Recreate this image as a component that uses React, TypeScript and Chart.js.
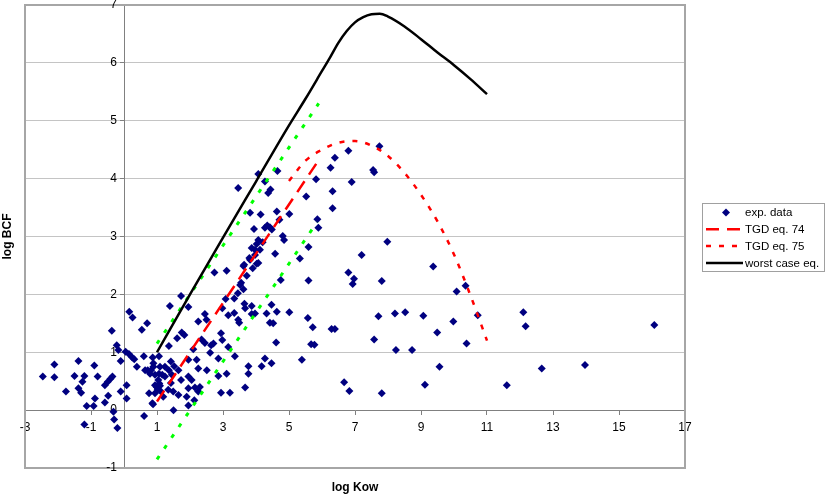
import React, { useEffect, useRef } from "react";
import { Chart, registerables } from "chart.js";

Chart.register(...registerables);

// ---- data ----
const expX = [
  -2.46, -2.11, -2.11, -1.76, -1.38, -1.5, -1.2, -1.38, -1.26, -1.3, -1.13, -1.2, -0.9, -0.8, -0.88, -0.92,
  -0.58, -0.48, -0.58, -0.49, -0.41, -0.35, -0.37, -0.32, -0.3, -0.2, -0.22, -0.17, -0.1, -0.1, 0.08, 0.08,
  0.16, 0.26, 0.05, 0.15, 0.25, 0.31, 0.39, 0.54, 0.7, 0.6, 0.61, 0.72, 0.82, 0.76, 0.88, 0.87, 0.89, 0.64, 0.79,
  1.06, 0.89, 1.09, 1.06, 1.04, 0.94, 1.09, 1.02, 1.12, 0.94, 0.86, 0.94, 1.16, 1.19, 1.34, 0.99, 1.07,
  1.24, 1.24, 1.36, 1.42, 1.45, 1.42, 1.49, 1.65, 1.5, 1.9, 1.52, 1.65, 1.73, 1.95, 1.95, 2.05, 2.15, 2.3,
  2.25, 2.13, 1.95, 1.95, 2.2, 2.25, 2.51, 2.1, 2.61, 2.86, 2.35, 2.45, 2.64, 2.71, 2.94, 2.98, 3.16, 1.36,
  1.61, 1.75, 1.83, 1.39, 1.73, 1.95, 2.25, 2.45, 2.5,
  2.74, 3.11, 3.64, 3.82, 4.02, 3.52, 3.62, 3.45, 3.34, 3.08, 3.65, 3.87, 3.67, 2.98, 3.34, 3.16, 3.46, 3.49,
  3.87, 3.97, 4.32, 4.47, 4.52, 4.42, 4.63, 5.01, 4.61, 3.36, 2.86, 3.11, 2.94, 3.21, 3.67, 3.77, 3.77, 4.17,
  4.27, 4.47,
  3.46, 4.07, 4.27, 4.65, 4.37, 4.44, 3.82, 4.14, 4.63, 5.01, 4.71, 3.94, 4.27, 4.34, 4.42, 4.48, 4.81, 4.85,
  4.07, 4.02, 3.87, 3.97, 4.12, 3.8, 3.97, 4.58, 4.07, 3.62, 4.75, 3.72, 3.55, 3.9, 4.2,
  5.82, 5.52, 6.26, 6.39, 6.32, 6.32, 5.86, 5.89, 5.59, 7.74, 6.8, 6.9, 7.55, 7.58, 7.98, 5.33, 7.2, 6.8, 6.97,
  6.93, 7.81, 5.59, 9.37, 10.35, 10.08, 5.57, 5.72, 5.67, 5.77, 6.29, 6.39, 5.39, 6.67, 6.83, 7.81, 7.71,
  7.58, 8.21, 8.52, 9.07, 8.24, 8.73, 9.49, 9.98, 10.72, 10.38, 9.56, 9.12, 11.6, 12.1, 12.17, 12.66, 13.97,
  16.07,
];
const expY = [
  0.58, 0.79, 0.57, 0.32, 0.85, 0.59, 0.59, 0.38, 0.49, 0.3, 0.07, -0.25, 0.77, 0.58, 0.2, 0.07,
  0.13, 0.25, 0.43, 0.49, 0.54, 0.58, 1.37, -0.03, -0.16, -0.31, 1.12, 1.04, 0.85, 0.32, 0.43, 0.2,
  1.7, 1.6, 1.01, 0.97, 0.91, 0.88, 0.75, 1.39, 1.5, 0.93, -0.1, 0.69, 0.69, 0.29, 0.1, 0.91, 0.81, 0.69, 0.63,
  0.93, 0.75, 0.75, 0.63, 0.52, 0.43, 0.42, 0.36, 0.32, 0.29, 0.12, 0.61, 0.61, 0.23, 0.35, 0.4, 0.46,
  0.58, 0.75, 0.69, 0.84, 0.61, 0.47, 0.32, 0.26, 0.0, 0.23, 0.76, 0.69, 0.52, 0.38, 0.58, 0.52, 0.39, 0.4,
  0.32, 0.17, 0.08, 0.87, 0.87, 0.72, 0.69, 1.05, 0.99, 0.89, 1.22, 1.16, 1.12, 1.15, 1.33, 1.21, 1.09, 1.11,
  1.24, 1.34, 1.3, 1.8, 1.97, 1.78, 1.53, 1.66, 1.56,
  2.38, 2.41, 2.51, 2.6, 2.53, 2.16, 2.09, 2.02, 1.93, 1.92, 1.84, 1.8, 1.76, 1.76, 1.68, 1.64, 1.56, 1.51,
  1.66, 1.67, 1.67, 1.82, 1.5, 1.51, 1.7, 1.69, 1.17, 0.93, 0.59, 0.63, 0.3, 0.3, 0.39, 0.76, 0.63, 0.76,
  0.89, 0.81,
  3.84, 4.08, 3.95, 4.13, 3.75, 3.81, 3.41, 3.38, 3.43, 3.39, 3.29, 3.13, 3.15, 3.19, 3.16, 3.12, 3.01, 2.94,
  2.94, 2.87, 2.8, 2.77, 2.77, 2.63, 2.68, 2.7, 2.54, 2.49, 2.25, 2.32, 2.2, 2.45, 2.9,
  3.99, 3.69, 4.19, 4.36, 3.78, 3.49, 3.3, 3.15, 2.82, 4.56, 4.48, 3.94, 4.15, 4.11, 2.91, 2.62, 2.68, 2.38, 2.27,
  2.18, 2.23, 2.24, 2.48, 2.15, 2.05, 1.59, 1.43, 1.14, 1.13, 1.4, 1.4, 0.87, 0.48, 0.33, 0.29, 1.62,
  1.22, 1.67, 1.69, 1.63, 1.04, 1.04, 1.34, 1.53, 1.64, 1.15, 0.75, 0.44, 0.43, 1.69, 1.45, 0.72, 0.78,
  1.47,
];

const eq74X = [1, 5.9];
const eq74Y = [0.15, 4.32];

const eq75X = [5, 5.5, 6, 6.5, 7, 7.5, 8, 8.5, 9, 9.5, 10, 10.5, 11];
const eq75Y = [3.96, 4.31, 4.5, 4.62, 4.65, 4.57, 4.39, 4.1, 3.72, 3.26, 2.69, 1.98, 1.2];

const worstX = [1, 2, 3, 4, 5, 5.5, 6, 6.25, 6.5, 6.75, 7, 7.25, 7.5, 7.75, 8, 8.5, 9, 9.5, 10, 10.5, 11];
const worstY = [1.0, 2.0, 2.98, 3.95, 4.92, 5.38, 5.86, 6.1, 6.35, 6.55, 6.7, 6.79, 6.84, 6.85, 6.8, 6.63, 6.41, 6.18, 5.96, 5.72, 5.46];

const upperBandX = [1, 5.9];
const upperBandY = [1.15, 5.3];
const lowerBandX = [1, 5.85];
const lowerBandY = [-0.85, 3.25];

const xTicksMin = -3;
const xTicksMax = 17;
const xStep = 2;
const yTicksMin = -1;
const yTicksMax = 7;
const yStep = 1;

const legendLabels = ["exp. data", "TGD eq. 74", "TGD eq. 75", "worst case eq."];
const xTitle = "log Kow";
const yTitle = "log BCF";

const FONT = "'Liberation Sans', Arial, Helvetica, sans-serif";

const pts = (xs: number[], ys: number[]) => xs.map((x, i) => ({ x, y: ys[i] }));

const decorPlugin = {
  id: "decor",
  beforeDatasetsDraw(chart: any) {
    const { ctx, chartArea: a } = chart;
    ctx.save();
    ctx.strokeStyle = "#a6a6a6";
    ctx.lineWidth = 2;
    ctx.strokeRect(a.left, a.top, a.right - a.left, a.bottom - a.top);

    // y tick labels, right-aligned beside the y axis (which sits at x = 0)
    const ys = chart.scales.y;
    const xs = chart.scales.x;
    const axisX = xs.getPixelForValue(0);
    ctx.fillStyle = "#000";
    ctx.font = `12px ${FONT}`;
    ctx.textAlign = "right";
    ctx.textBaseline = "middle";
    ys.ticks.forEach((t: any) => {
      ctx.fillText(String(t.value), axisX - 7, ys.getPixelForValue(t.value));
    });
    ctx.restore();
  },
  afterDraw(chart: any) {
    const { ctx, chartArea: a } = chart;
    ctx.save();
    // axis titles
    ctx.fillStyle = "#000";
    ctx.font = `bold 12px ${FONT}`;
    ctx.textAlign = "center";
    ctx.textBaseline = "middle";
    ctx.fillText(xTitle, (a.left + a.right) / 2, a.bottom + 20);
    ctx.save();
    ctx.translate(a.left - 17, (a.top + a.bottom) / 2);
    ctx.rotate(-Math.PI / 2);
    ctx.fillText(yTitle, 0, 0);
    ctx.restore();

    // legend
    const bx = a.right + 17;
    const by = 203;
    const bw = 122;
    const bh = 68;
    ctx.fillStyle = "#fff";
    ctx.fillRect(bx, by, bw, bh);
    ctx.strokeStyle = "#a0a0a0";
    ctx.lineWidth = 1;
    ctx.strokeRect(bx + 0.5, by + 0.5, bw, bh);
    const items = chart.data.datasets.filter((d: any) => legendLabels.includes(d.label));
    items.forEach((d: any, i: number) => {
      const cy = by + 9.5 + i * 16.8;
      if (!d.showLine) {
        const r = 4;
        const cx = bx + 24;
        ctx.fillStyle = d.backgroundColor;
        ctx.beginPath();
        ctx.moveTo(cx - r, cy);
        ctx.lineTo(cx, cy - r);
        ctx.lineTo(cx + r, cy);
        ctx.lineTo(cx, cy + r);
        ctx.closePath();
        ctx.fill();
      } else {
        ctx.strokeStyle = d.borderColor;
        ctx.lineWidth = d.borderWidth;
        ctx.setLineDash(d.borderDash || []);
        ctx.beginPath();
        ctx.moveTo(bx + 4, cy);
        ctx.lineTo(bx + 41, cy);
        ctx.stroke();
        ctx.setLineDash([]);
      }
      ctx.fillStyle = "#000";
      ctx.font = `11.5px ${FONT}`;
      ctx.textAlign = "left";
      ctx.textBaseline = "middle";
      ctx.fillText(d.label, bx + 43, cy + 0.5);
    });
    ctx.restore();
  },
};

export default function App() {
  const ref = useRef<HTMLCanvasElement | null>(null);

  useEffect(() => {
    document.body.style.margin = "0";
    if (!ref.current) return;
    const chart = new Chart(ref.current, {
      type: "scatter",
      data: {
        datasets: [
          {
            label: legendLabels[0],
            data: pts(expX, expY),
            showLine: false,
            pointStyle: "rectRot",
            pointRadius: 4,
            pointBorderWidth: 0,
            backgroundColor: "#000080",
            borderColor: "#000080",
            order: 10,
          },
          {
            label: legendLabels[1],
            data: pts(eq74X, eq74Y),
            showLine: true,
            borderColor: "#ff0000",
            backgroundColor: "#ff0000",
            borderWidth: 2.5,
            borderDash: [13, 8],
            pointRadius: 0,
            order: 2,
          },
          {
            label: legendLabels[2],
            data: pts(eq75X, eq75Y),
            showLine: true,
            borderColor: "#ff0000",
            backgroundColor: "#ff0000",
            borderWidth: 2.5,
            borderDash: [5, 8],
            cubicInterpolationMode: "monotone",
            pointRadius: 0,
            order: 3,
          },
          {
            label: legendLabels[3],
            data: pts(worstX, worstY),
            showLine: true,
            borderColor: "#000000",
            backgroundColor: "#000000",
            borderWidth: 2.5,
            cubicInterpolationMode: "monotone",
            pointRadius: 0,
            order: 1,
          },
          {
            label: "band upper",
            data: pts(upperBandX, upperBandY),
            showLine: true,
            borderColor: "#00ff00",
            borderWidth: 3,
            borderDash: [4, 9],
            pointRadius: 0,
            order: 4,
          },
          {
            label: "band lower",
            data: pts(lowerBandX, lowerBandY),
            showLine: true,
            borderColor: "#00ff00",
            borderWidth: 3,
            borderDash: [4, 9],
            pointRadius: 0,
            order: 5,
          },
        ],
      },
      options: {
        responsive: false,
        animation: false,
        devicePixelRatio: 1,
        layout: { padding: { left: 25, top: 5, right: 141, bottom: 27 } },
        plugins: { legend: { display: false }, tooltip: { enabled: false } },
        scales: {
          x: {
            type: "linear",
            min: xTicksMin,
            max: xTicksMax,
            position: { y: 0 } as any,
            ticks: {
              stepSize: xStep,
              autoSkip: false,
              maxRotation: 0,
              padding: 6,
              color: "#000",
              font: { family: FONT, size: 12 },
            },
            grid: { display: true, drawOnChartArea: false, tickLength: 4, tickColor: "#808080" },
            border: { display: true, color: "#808080", width: 1 },
          },
          y: {
            type: "linear",
            min: yTicksMin,
            max: yTicksMax,
            position: { x: 0 } as any,
            ticks: {
              stepSize: yStep,
              autoSkip: false,
              display: false,
            },
            grid: { display: true, color: "#c4c4c4", lineWidth: 1, tickLength: 4, tickColor: "#808080" },
            border: { display: true, color: "#808080", width: 1 },
          },
        },
      },
      plugins: [decorPlugin],
    } as any);
    return () => chart.destroy();
  }, []);

  return (
    <div style={{ width: 826, height: 495, background: "#fff" }}>
      <canvas ref={ref} width={826} height={495} />
    </div>
  );
}
